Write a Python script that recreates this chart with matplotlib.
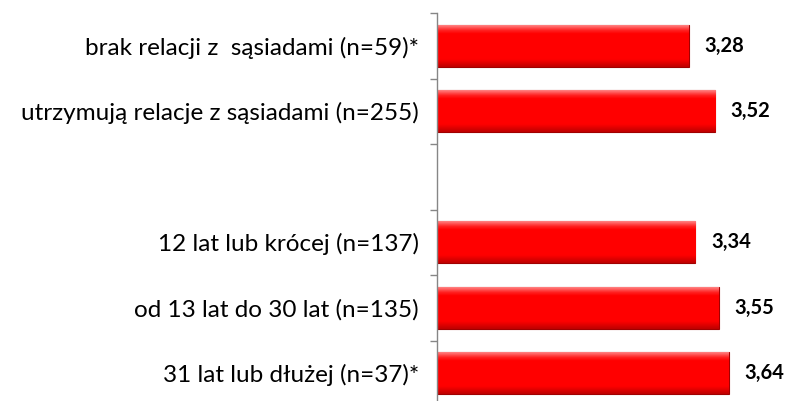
import numpy as np
import matplotlib
matplotlib.use("Agg")
import matplotlib.pyplot as plt
from matplotlib.colors import LinearSegmentedColormap

plt.rcParams["font.family"] = ["Lato", "DejaVu Sans"]

categories = [
    "brak relacji z  sąsiadami (n=59)*",
    "utrzymują relacje z sąsiadami (n=255)",
    "",
    "12 lat lub krócej (n=137)",
    "od 13 lat do 30 lat (n=135)",
    "31 lat lub dłużej (n=37)*",
]
values = [3.28, 3.52, None, 3.34, 3.55, 3.64]
value_labels = ["3,28", "3,52", "", "3,34", "3,55", "3,64"]

fig = plt.figure(figsize=(7.86, 4.01), dpi=100)
ax = fig.add_axes([0.556, -0.0125, 0.444, 0.98])

xmin = 1.0
ax.set_xlim(xmin, 4.16)
ax.set_ylim(len(categories) - 0.5, -0.5)

# vertical shading of the bar: light top edge, flat red, darker bottom
shade = LinearSegmentedColormap.from_list(
    "bevel", [(0.0, "#ff8080"), (0.12, "#ff2020"), (0.2, "#ff0000"),
              (0.82, "#ff0000"), (1.0, "#c00000")])
grad = np.linspace(0, 1, 64).reshape(-1, 1)

ys = [i for i, v in enumerate(values) if v is not None]
vals = [v for v in values if v is not None]
bars = ax.barh(ys, [v - xmin for v in vals], left=xmin, height=0.64,
               color="#ff0000", edgecolor="#a00000", linewidth=0.8, zorder=2)

for b in bars:
    x0, y0 = b.get_x(), b.get_y()
    w, h = b.get_width(), b.get_height()
    im = ax.imshow(grad, cmap=shade, aspect="auto", zorder=2.5,
                   extent=(x0, x0 + w, y0 + h, y0), interpolation="bilinear")
    im.set_clip_path(b)

for y, v in zip(ys, vals):
    ax.text(v + 0.14, y, value_labels[y], ha="left", va="center",
            fontsize=14.5, fontweight="bold", color="black")

# Excel-like category axis: ticks between categories, labels at centres
ax.set_yticks(np.arange(-0.5, len(categories) + 0.5, 1.0))
ax.set_yticklabels([])
ax.set_yticks(range(len(categories)), minor=True)
ax.set_yticklabels(categories, minor=True, fontsize=17.5)
ax.tick_params(axis="y", which="major", length=5, width=1, color="#868686",
               direction="out")
ax.tick_params(axis="y", which="minor", length=0, pad=13)
ax.set_xticks([])

for s in ["top", "right", "bottom"]:
    ax.spines[s].set_visible(False)
ax.spines["left"].set_color("#868686")
ax.spines["left"].set_linewidth(1)

fig.savefig("out.png", dpi=100)
